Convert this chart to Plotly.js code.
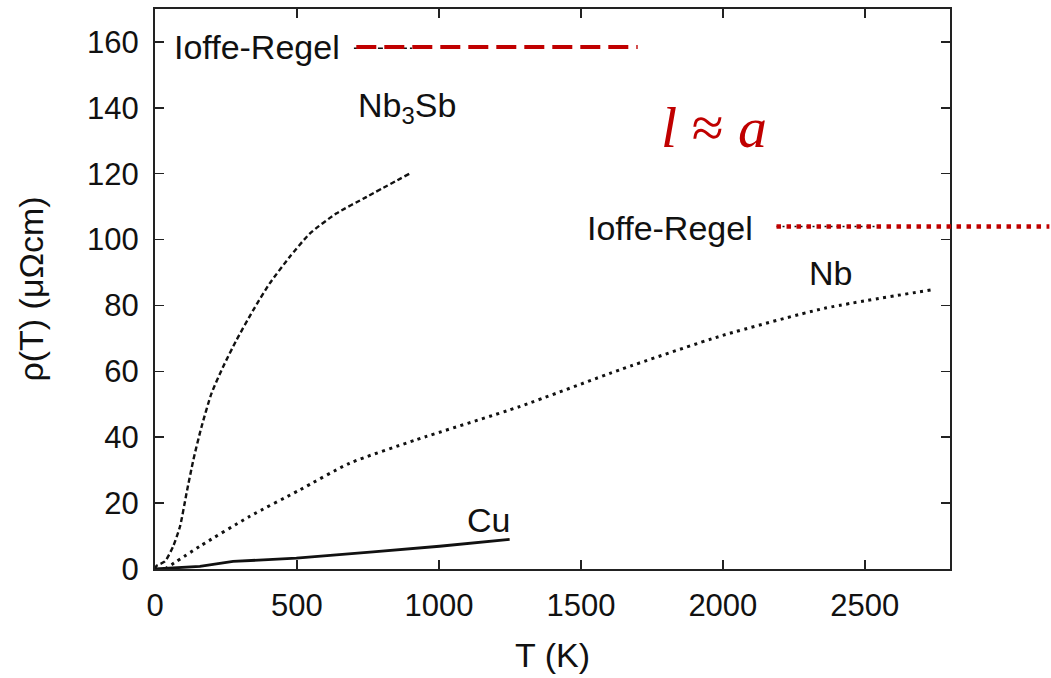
<!DOCTYPE html>
<html>
<head>
<meta charset="utf-8">
<script src="https://cdn.plot.ly/plotly-3.0.1.min.js"></script>
<style>html,body{margin:0;padding:0;background:#fff;}#plot{width:1051px;height:678px;}</style>
</head>
<body>
<div id="plot"></div>
<script>
// ---- data ----
const nb3sbT   = [0, 6, 35, 64, 88, 111, 135, 164, 199, 240, 287, 346, 404, 474, 545, 638, 744, 896];
const nb3sbRho = [0, 1.0, 2.3, 6.9, 12.9, 23.0, 33.1, 43.2, 53.3, 61.4, 69.5, 78.6, 86.7, 94.7, 101.8, 107.9, 112.9, 120.0];

const nbT   = [35, 158, 334, 510, 685, 919, 1284, 1641, 1999, 2356, 2739];
const nbRho = [0, 6.9, 16.0, 24.0, 32.1, 39.2, 49.3, 60.6, 70.9, 79.1, 84.8];

const cuT   = [0, 158, 275, 498, 768, 1002, 1249];
const cuRho = [0, 0.8, 2.3, 3.3, 5.2, 6.9, 9.0];

// Ioffe-Regel limit lines: [startT, endT, rho]
const ioffe1 = [709, 1700, 158.5];
const ioffe2 = [2189, 3150, 104];

const xTicks = [0, 500, 1000, 1500, 2000, 2500];
const yTicks = [0, 20, 40, 60, 80, 100, 120, 140, 160];
const xRange = [0, 2800];
const yRange = [0, 170];

const toPaperX = t => (t - xRange[0]) / (xRange[1] - xRange[0]);

const FONT = 'Liberation Sans, Arial, Helvetica, sans-serif';
const RED = '#c00000';

const traces = [
  {x: nb3sbT, y: nb3sbRho, mode: 'lines', line: {color: '#111', width: 2.4, dash: '5px,3px', shape: 'spline', smoothing: 0.6}},
  {x: nbT, y: nbRho, mode: 'lines', line: {color: '#111', width: 3, dash: '3px,4.5px', shape: 'spline', smoothing: 0.6}},
  {x: cuT, y: cuRho, mode: 'lines', line: {color: '#111', width: 2.8}}
];

const layout = {
  width: 1051, height: 678,
  margin: {l: 155, r: 101, t: 9, b: 109},
  paper_bgcolor: '#fff', plot_bgcolor: '#fff',
  showlegend: false,
  font: {family: FONT, color: '#111', size: 31},
  xaxis: {
    range: xRange, tickvals: xTicks, ticktext: xTicks.map(String),
    ticks: 'inside', ticklen: 9, tickwidth: 1.5, tickcolor: '#222',
    showline: true, linecolor: '#222', linewidth: 2, mirror: 'ticks',
    showgrid: false, zeroline: false, ticklabelstandoff: 8,
    tickfont: {family: FONT, size: 31, color: '#111'},
    title: {text: 'T (K)', font: {family: FONT, size: 34, color: '#111'}, standoff: 21}
  },
  yaxis: {
    range: yRange, tickvals: yTicks, ticktext: yTicks.map(String),
    ticks: 'inside', ticklen: 9, tickwidth: 1.5, tickcolor: '#222',
    showline: true, linecolor: '#222', linewidth: 2, mirror: 'ticks',
    showgrid: false, zeroline: false, ticklabelstandoff: 8,
    tickfont: {family: FONT, size: 31, color: '#111'},
    title: {text: 'ρ(T) (μΩcm)', font: {family: FONT, size: 34, color: '#111'}, standoff: 33}
  },
  shapes: [
    {type: 'line', xref: 'paper', yref: 'y', x0: toPaperX(ioffe1[0]) - 0.003, x1: toPaperX(ioffe1[0]) + 0.07, y0: ioffe1[2] - 0.4, y1: ioffe1[2] - 0.4,
     line: {color: '#111', width: 1.5, dash: '5px,3px'}},
    {type: 'line', xref: 'paper', yref: 'y', x0: toPaperX(ioffe2[0]), x1: toPaperX(ioffe2[0]) + 0.13, y0: ioffe2[2], y1: ioffe2[2],
     line: {color: '#111', width: 1.5, dash: '2px,4px'}},
    {type: 'line', xref: 'paper', yref: 'y', x0: toPaperX(ioffe1[0]), x1: toPaperX(ioffe1[1]), y0: ioffe1[2], y1: ioffe1[2],
     line: {color: RED, width: 4, dash: '20px,8px'}},
    {type: 'line', xref: 'paper', yref: 'y', x0: toPaperX(ioffe2[0]), x1: toPaperX(ioffe2[1]), y0: ioffe2[2], y1: ioffe2[2],
     line: {color: RED, width: 4.5, dash: '4.5px,5.5px'}}
  ],
  annotations: [
    {x: ioffe1[0], y: ioffe1[2], xref: 'x', yref: 'y', text: 'Ioffe-Regel', showarrow: false, xanchor: 'right', xshift: -14, yshift: 0,
     font: {family: FONT, size: 34, color: '#111'}},
    {x: ioffe2[0], y: ioffe2[2], xref: 'x', yref: 'y', text: 'Ioffe-Regel', showarrow: false, xanchor: 'right', xshift: -22, yshift: -2,
     font: {family: FONT, size: 34, color: '#111'}},
    {x: 886, y: 140, xref: 'x', yref: 'y', text: 'Nb<sub>3</sub>Sb', showarrow: false,
     font: {family: FONT, size: 34, color: '#111'}},
    {x: 2380, y: 90, xref: 'x', yref: 'y', text: 'Nb', showarrow: false,
     font: {family: FONT, size: 34, color: '#111'}},
    {x: 1175, y: 14.8, xref: 'x', yref: 'y', text: 'Cu', showarrow: false,
     font: {family: FONT, size: 34, color: '#111'}},
    {x: 1970, y: 134, xref: 'x', yref: 'y', text: '<i>l</i> ≈ <i>a</i>', showarrow: false,
     font: {family: 'Liberation Serif, DejaVu Serif, serif', size: 58, color: RED}}
  ]
};

Plotly.newPlot('plot', traces, layout, {displayModeBar: false, staticPlot: true});
</script>
</body>
</html>
